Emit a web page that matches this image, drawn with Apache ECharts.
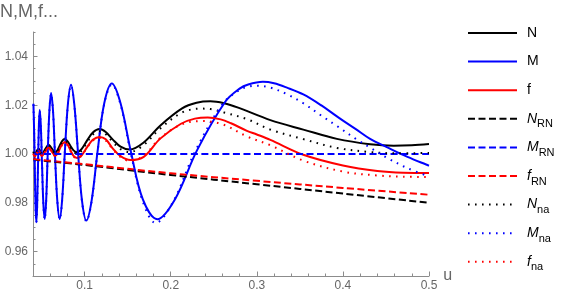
<!DOCTYPE html>
<html><head><meta charset="utf-8">
<script src="https://cdn.jsdelivr.net/npm/echarts@6/dist/echarts.min.js"></script>
<style>html,body{margin:0;padding:0;background:#fff}#c{width:564px;height:298px}</style>
</head><body><div id="c"></div>
<script>
// ---- tick values ----
const xMajorTicks = [0.1, 0.2, 0.3, 0.4, 0.5];
const xMinorTicks = [0.06, 0.08, 0.12, 0.14, 0.16, 0.18, 0.22, 0.24, 0.26, 0.28, 0.32, 0.34, 0.36, 0.38, 0.42, 0.44, 0.46, 0.48];
const yMajorTicks = [0.96, 0.98, 1.00, 1.02, 1.04];
const yMinorTicks = [0.955, 0.965, 0.97, 0.975, 0.985, 0.99, 0.995, 1.005, 1.01, 1.015, 1.025, 1.03, 1.035, 1.045, 1.05];

// ---- series values [u, value] ----
const N = [[0.0405,1.0010],[0.0421,0.9998],[0.0440,1.0010],[0.0466,1.0022],[0.0486,1.0011],[0.0506,1.0000],[0.0540,1.0019],[0.0582,1.0038],[0.0618,1.0023],[0.0660,1.0007],[0.0684,1.0015],[0.0710,1.0034],[0.0738,1.0053],[0.0768,1.0061],[0.0800,1.0053],[0.0834,1.0034],[0.0871,1.0015],[0.0912,1.0007],[0.0966,1.0021],[0.1027,1.0055],[0.1095,1.0088],[0.1174,1.0102],[0.1245,1.0090],[0.1325,1.0060],[0.1417,1.0030],[0.1522,1.0018],[0.1682,1.0046],[0.1880,1.0117],[0.2132,1.0187],[0.2300,1.0210],[0.2460,1.0216],[0.2620,1.0208],[0.2783,1.0190],[0.3157,1.0139],[0.3540,1.0100],[0.3930,1.0062],[0.4316,1.0040],[0.4590,1.0034],[0.4800,1.0036],[0.5000,1.0041]];
const M = [[0.0405,1.0206],[0.0414,1.0080],[0.0420,0.9965],[0.0429,0.9792],[0.0439,0.9720],[0.0448,0.9787],[0.0458,0.9950],[0.0468,1.0113],[0.0478,1.0180],[0.0491,1.0115],[0.0505,0.9957],[0.0520,0.9799],[0.0536,0.9734],[0.0553,0.9810],[0.0570,0.9992],[0.0590,1.0174],[0.0610,1.0250],[0.0633,1.0174],[0.0656,0.9992],[0.0682,0.9810],[0.0710,0.9734],[0.0739,0.9815],[0.0770,1.0009],[0.0805,1.0203],[0.0842,1.0284],[0.0880,1.0202],[0.0923,1.0006],[0.0969,0.9809],[0.1020,0.9727],[0.1081,0.9809],[0.1149,1.0008],[0.1227,1.0207],[0.1316,1.0289],[0.1417,1.0208],[0.1536,1.0011],[0.1676,0.9814],[0.1844,0.9733],[0.2050,0.9815],[0.2305,1.0015],[0.2633,1.0214],[0.2800,1.0268],[0.2900,1.0285],[0.3070,1.0296],[0.3200,1.0290],[0.3350,1.0272],[0.3540,1.0244],[0.3750,1.0199],[0.3930,1.0154],[0.4150,1.0102],[0.4316,1.0062],[0.4510,1.0028],[0.4750,0.9988],[0.5000,0.9952]];
const f = [[0.0405,1.0002],[0.0421,0.9990],[0.0440,1.0001],[0.0466,1.0013],[0.0486,1.0003],[0.0506,0.9992],[0.0540,1.0010],[0.0582,1.0027],[0.0618,1.0010],[0.0660,0.9993],[0.0684,1.0001],[0.0710,1.0020],[0.0738,1.0040],[0.0768,1.0048],[0.0800,1.0040],[0.0834,1.0016],[0.0871,0.9992],[0.0912,0.9984],[0.0966,0.9995],[0.1027,1.0027],[0.1095,1.0058],[0.1174,1.0070],[0.1245,1.0060],[0.1325,1.0023],[0.1417,0.9991],[0.1530,0.9975],[0.1686,0.9988],[0.1878,1.0063],[0.2119,1.0124],[0.2280,1.0145],[0.2430,1.0150],[0.2580,1.0142],[0.2700,1.0126],[0.2885,1.0095],[0.3000,1.0080],[0.3157,1.0058],[0.3540,0.9997],[0.4000,0.9953],[0.4400,0.9930],[0.4700,0.9923],[0.5000,0.9922]];
const N_RN = [[0.0405,0.9977],[0.1000,0.9955],[0.2000,0.9914],[0.3000,0.9876],[0.4000,0.9838],[0.5000,0.9800]];
const M_RN = [[0.0405,1.0000],[0.5000,1.0000]];
const f_RN = [[0.0405,0.9979],[0.1000,0.9958],[0.2000,0.9921],[0.3000,0.9890],[0.4000,0.9861],[0.5000,0.9833]];
const N_na = [[0.0405,1.0008],[0.0421,0.9996],[0.0440,1.0008],[0.0466,1.0019],[0.0486,1.0008],[0.0506,0.9997],[0.0540,1.0015],[0.0582,1.0034],[0.0618,1.0019],[0.0660,1.0003],[0.0684,1.0011],[0.0710,1.0029],[0.0738,1.0047],[0.0768,1.0055],[0.0800,1.0047],[0.0834,1.0028],[0.0871,1.0009],[0.0912,1.0001],[0.0966,1.0014],[0.1027,1.0047],[0.1095,1.0080],[0.1174,1.0092],[0.1245,1.0081],[0.1325,1.0050],[0.1417,1.0020],[0.1522,1.0008],[0.1682,1.0036],[0.1880,1.0105],[0.2132,1.0170],[0.2350,1.0186],[0.2460,1.0184],[0.2620,1.0170],[0.2885,1.0143],[0.3157,1.0100],[0.3540,1.0061],[0.3930,1.0025],[0.4316,1.0008],[0.4600,1.0003],[0.5000,1.0004]];
const M_na = [[0.0405,1.0203],[0.0414,1.0078],[0.0420,0.9962],[0.0429,0.9790],[0.0439,0.9718],[0.0448,0.9786],[0.0458,0.9950],[0.0468,1.0111],[0.0478,1.0177],[0.0491,1.0112],[0.0505,0.9955],[0.0520,0.9797],[0.0536,0.9732],[0.0553,0.9808],[0.0570,0.9991],[0.0590,1.0172],[0.0610,1.0247],[0.0633,1.0171],[0.0656,0.9990],[0.0682,0.9808],[0.0710,0.9732],[0.0739,0.9812],[0.0770,1.0008],[0.0805,1.0200],[0.0842,1.0281],[0.0880,1.0200],[0.0923,1.0004],[0.0969,0.9806],[0.1020,0.9724],[0.1081,0.9806],[0.1149,1.0006],[0.1227,1.0204],[0.1316,1.0285],[0.1417,1.0203],[0.1536,1.0003],[0.1676,0.9805],[0.1825,0.9717],[0.2030,0.9806],[0.2280,1.0008],[0.2600,1.0204],[0.2800,1.0263],[0.2900,1.0276],[0.3000,1.0280],[0.3157,1.0272],[0.3350,1.0245],[0.3540,1.0208],[0.3750,1.0157],[0.3930,1.0115],[0.4150,1.0062],[0.4316,1.0026],[0.4510,0.9985],[0.4750,0.9942],[0.5000,0.9908]];
const f_na = [[0.0405,1.0001],[0.0421,0.9989],[0.0440,1.0000],[0.0466,1.0011],[0.0486,1.0002],[0.0506,0.9991],[0.0540,1.0008],[0.0582,1.0024],[0.0618,1.0008],[0.0660,0.9991],[0.0684,0.9999],[0.0710,1.0018],[0.0738,1.0036],[0.0768,1.0044],[0.0800,1.0036],[0.0834,1.0013],[0.0871,0.9990],[0.0912,0.9982],[0.0966,0.9994],[0.1027,1.0026],[0.1095,1.0055],[0.1174,1.0066],[0.1245,1.0055],[0.1325,1.0020],[0.1417,0.9988],[0.1520,0.9972],[0.1682,0.9992],[0.1880,1.0066],[0.2132,1.0122],[0.2360,1.0135],[0.2600,1.0122],[0.2885,1.0072],[0.3157,1.0036],[0.3540,0.9973],[0.4000,0.9928],[0.4400,0.9912],[0.4700,0.9907],[0.5000,0.9906]];

const seriesNames = ['N','M','f','N_RN','M_RN','f_RN','N_na','M_na','f_na'];
const legendLabels = ['N','M','f','{i|N}{s|RN}','{i|M}{s|RN}','{i|f}{s|RN}','{i|N}{s|na}','{i|M}{s|na}','{i|f}{s|na}'];
const seriesData = [N, M, f, N_RN, M_RN, f_RN, N_na, M_na, f_na];
const seriesColors = ['#000000','#0000ff','#ff0000','#000000','#0000ff','#ff0000','#000000','#0000ff','#ff0000'];
const seriesDash = ['solid','solid','solid',[7,3.5],[7,3.5],[7,3.5],[1.6,5.4],[1.6,5.4],[1.6,5.4]];

const FONT = 'Liberation Sans, Arial, sans-serif';
const AXIS_COLOR = '#8c8c8c';
const LABEL_COLOR = '#666666';

const chart = echarts.init(document.getElementById('c'), null, {renderer: 'canvas'});
const option = {
  animation: false,
  backgroundColor: '#fff',
  title: {
    text: 'N,M,f...', left: 0, top: 3, padding: 0,
    textStyle: {fontFamily: FONT, fontSize: 18, fontWeight: 'normal', color: LABEL_COLOR}
  },
  grid: {left: 33, right: 135, top: 32, bottom: 22, containLabel: false},
  legend: {
    orient: 'vertical', left: 467, top: 22, padding: 0,
    itemWidth: 49, itemHeight: 14, itemGap: 6.6,
    data: seriesNames,
    itemStyle: {color: 'rgba(0,0,0,0)', borderWidth: 0, opacity: 0},
    formatter: function (name) { return legendLabels[seriesNames.indexOf(name)]; },
    textStyle: {
      fontFamily: FONT, fontSize: 14, color: '#000', lineHeight: 22, padding: [0, 0, 0, 5],
      rich: {
        i: {fontFamily: FONT, fontSize: 14, fontStyle: 'italic', color: '#000', lineHeight: 22},
        s: {fontFamily: FONT, fontSize: 11, color: '#000', lineHeight: 22, verticalAlign: 'bottom'}
      }
    }
  },
  xAxis: [{
    type: 'value', min: 0.04, max: 0.5, position: 'bottom',
    name: 'u', nameLocation: 'end', nameGap: 9,
    nameTextStyle: {fontFamily: FONT, fontSize: 16, color: LABEL_COLOR},
    axisLine: {show: true, lineStyle: {color: AXIS_COLOR, width: 1}},
    axisTick: {show: true, inside: true, length: 4.5, customValues: xMajorTicks, lineStyle: {color: AXIS_COLOR}},
    axisLabel: {show: true, customValues: xMajorTicks, margin: 4, fontFamily: FONT, fontSize: 12, color: LABEL_COLOR,
      formatter: function (v) { return v.toFixed(1); }},
    splitLine: {show: false}
  }, {
    type: 'value', min: 0.04, max: 0.5, position: 'bottom',
    axisLine: {show: false},
    axisTick: {show: true, inside: true, length: 2.5, customValues: xMinorTicks, lineStyle: {color: AXIS_COLOR}},
    axisLabel: {show: false},
    splitLine: {show: false}
  }],
  yAxis: [{
    type: 'value', min: 0.95, max: 1.05, position: 'left',
    axisLine: {show: true, lineStyle: {color: AXIS_COLOR, width: 1}},
    axisTick: {show: true, inside: true, length: 4.5, customValues: yMajorTicks, lineStyle: {color: AXIS_COLOR}},
    axisLabel: {show: true, customValues: yMajorTicks, margin: 5, fontFamily: FONT, fontSize: 12, color: LABEL_COLOR,
      formatter: function (v) { return v.toFixed(2); }},
    splitLine: {show: false}
  }, {
    type: 'value', min: 0.95, max: 1.05, position: 'left',
    axisLine: {show: false},
    axisTick: {show: true, inside: true, length: 2.5, customValues: yMinorTicks, lineStyle: {color: AXIS_COLOR}},
    axisLabel: {show: false},
    splitLine: {show: false}
  }],
  series: seriesNames.map(function (name, k) {
    return {
      name: name, type: 'line', xAxisIndex: 0, yAxisIndex: 0,
      data: seriesData[k], smooth: 0.35, symbol: 'none', showSymbol: false,
      lineStyle: {color: seriesColors[k], width: 2, type: seriesDash[k], cap: 'butt'},
      itemStyle: {color: seriesColors[k]},
      emphasis: {disabled: true}, z: 2 + k
    };
  })
};
chart.setOption(option);
</script>
</body></html>
